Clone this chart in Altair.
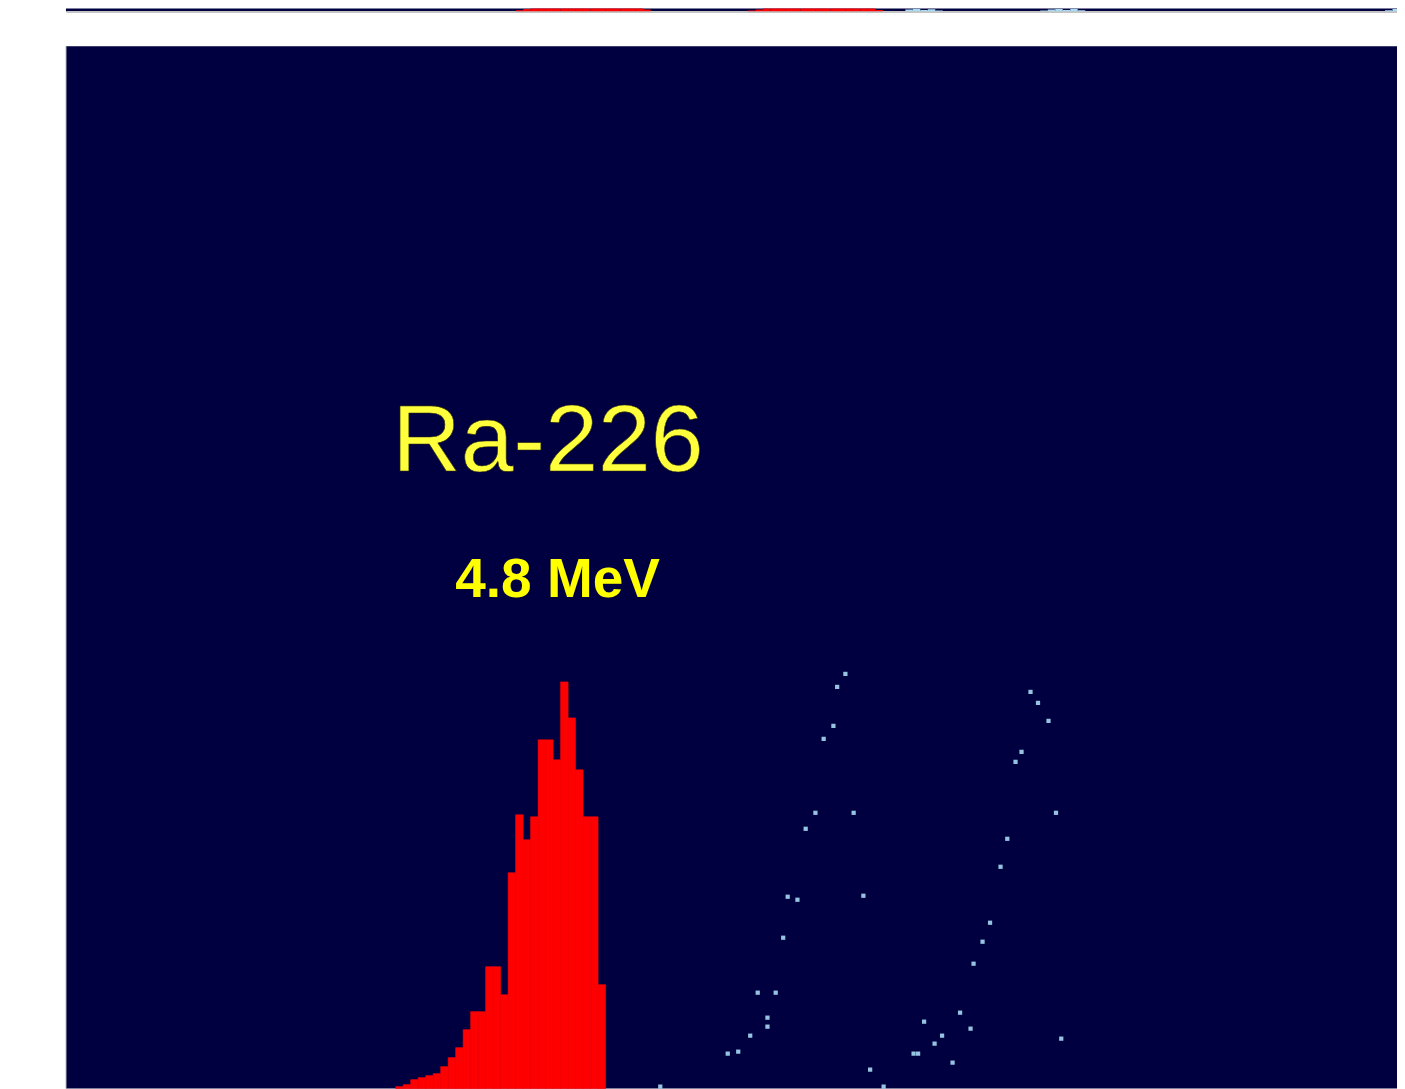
import altair as alt
import pandas as pd

# ---- main spectrum (Ra-226 peak), channel index and counts ----
main_ch = [44, 45, 46, 47, 48, 49, 50, 51, 52, 53, 54, 55, 56, 57, 58, 59,
           60, 61, 62, 63, 64, 65, 66, 67, 68, 69, 70, 71]
main_counts = [2, 4, 9, 11, 13, 15, 22, 31, 41, 59, 77, 77, 122, 122, 94, 216,
               274, 249, 272, 349, 349, 329, 407, 371, 319, 272, 272, 104]

# ---- sparse second spectrum shown as dots ----
dot_ch = [104.0, 102.9, 102.4, 101.1, 100.0, 105.1, 98.7, 96.3, 97.6, 106.4,
          95.7, 92.3, 94.7, 93.6, 93.6, 91.3, 89.7, 88.3, 79.3, 107.3, 109.1,
          128.7, 129.7, 131.1, 127.5, 126.7, 132.1, 125.6, 124.7, 123.3, 122.3,
          121.1, 119.3, 120.7, 116.9, 115.9, 114.5, 113.1, 113.7, 118.3, 132.8]
dot_counts = [415, 402, 363, 350, 276, 276, 260, 192, 189, 193,
              151, 96, 96, 71, 62, 53, 37, 35, 2, 19, 2,
              397, 386, 368, 337, 327, 276, 250, 222, 166, 147,
              125, 76, 60, 53, 45, 67, 35, 35, 26, 50]

# ---- overview strip (only its lowest part is visible) ----
strip_red_ch = [60, 61, 62, 63, 64, 65, 66, 67, 68, 69, 70, 71, 72, 73, 74, 75, 76, 77,
                91, 92, 93, 94, 95, 96, 97, 98, 99, 100, 101, 102, 103, 104, 105, 106, 107, 108]
strip_red_counts = [4, 8, 20, 20, 20, 20, 20, 20, 20, 20, 20, 20, 20, 20, 20, 20, 20, 6,
                    3, 6, 20, 20, 20, 20, 20, 20, 20, 20, 20, 20, 20, 20, 20, 20, 20, 5]
strip_cyan_ch = [112, 113, 114, 115, 116, 130, 131, 132, 133, 134, 135, 176, 177]
strip_cyan_counts = [6, 9, 5, 7, 3, 3, 6, 8, 5, 9, 4, 4, 8]

labels = ["Ra-226", "4.8 MeV"]
label_ch = [64.3, 65.6]
label_counts = [618, 492]

BG = "#000040"
W = 1332
XMAX = W / 7.5

main_df = pd.DataFrame({"ch": main_ch, "ch2": [c + 1 for c in main_ch], "counts": main_counts})
dot_df = pd.DataFrame({"ch": dot_ch, "counts": dot_counts})
sr_df = pd.DataFrame({"ch": strip_red_ch, "ch2": [c + 1 for c in strip_red_ch], "counts": strip_red_counts})
sc_df = pd.DataFrame({"ch": strip_cyan_ch, "ch2": [c + 1 for c in strip_cyan_ch], "counts": strip_cyan_counts})

xs = alt.Scale(domain=[0, XMAX], nice=False, zero=False)
ys_main = alt.Scale(domain=[0, 1043], nice=False)
ys_strip = alt.Scale(domain=[0, 10], nice=False)

strip_axis = alt.Axis(domain=True, domainColor="#c4c4c4", domainWidth=2,
                      labels=False, ticks=False, grid=False, title=None)

strip_red = alt.Chart(sr_df).mark_rect(color="#ff0000", clip=True).encode(
    x=alt.X("ch:Q", scale=xs, axis=strip_axis),
    x2="ch2:Q",
    y=alt.Y("counts:Q", scale=ys_strip, axis=None),
    y2=alt.datum(0),
)
strip_cyan = alt.Chart(sc_df).mark_rect(color="#a8dcf0", clip=True).encode(
    x=alt.X("ch:Q", scale=xs, axis=strip_axis),
    x2="ch2:Q",
    y=alt.Y("counts:Q", scale=ys_strip, axis=None),
    y2=alt.datum(0),
)
strip = alt.layer(strip_red, strip_cyan).properties(width=W, height=3)

bars = alt.Chart(main_df).mark_rect(color="#ff0000", stroke="#ff0000", strokeWidth=0.6).encode(
    x=alt.X("ch:Q", scale=xs, axis=None),
    x2="ch2:Q",
    y=alt.Y("counts:Q", scale=ys_main, axis=None),
    y2=alt.datum(0),
)
dots = alt.Chart(dot_df).mark_square(size=18, color="#a6d8f2", opacity=0.9).encode(
    x=alt.X("ch:Q", scale=xs, axis=None),
    y=alt.Y("counts:Q", scale=ys_main, axis=None),
)
edge = alt.Chart(pd.DataFrame({"ch": [0]})).mark_rule(color="#c8c8d0", strokeWidth=1).encode(
    x=alt.X("ch:Q", scale=xs, axis=None),
)
title_df = pd.DataFrame({"t": labels[:1], "ch": label_ch[:1], "counts": label_counts[:1]})
sub_df = pd.DataFrame({"t": labels[1:], "ch": label_ch[1:], "counts": label_counts[1:]})
title = alt.Chart(title_df).mark_text(
    font="Liberation Sans", fontSize=95, color="#ffff3c", align="center", baseline="alphabetic",
    stroke="#303010", strokeWidth=0.6,
).encode(
    x=alt.X("ch:Q", scale=xs, axis=None),
    y=alt.Y("counts:Q", scale=ys_main, axis=None),
    text="t:N",
)
sub = alt.Chart(sub_df).mark_text(
    font="Liberation Sans", fontSize=55, fontWeight="bold", color="#ffff00",
    align="center", baseline="alphabetic",
).encode(
    x=alt.X("ch:Q", scale=xs, axis=None),
    y=alt.Y("counts:Q", scale=ys_main, axis=None),
    text="t:N",
)
main = alt.layer(bars, dots, edge, title, sub).properties(width=W, height=1043)

chart = alt.vconcat(strip, main, spacing=34).properties(
    padding={"left": 57, "top": 0, "right": 0, "bottom": 0},
    background="white",
).configure_view(fill=BG, stroke=None).configure_concat(spacing=34)

chart.save("out.html", embed_options={"renderer": "svg", "actions": False})
